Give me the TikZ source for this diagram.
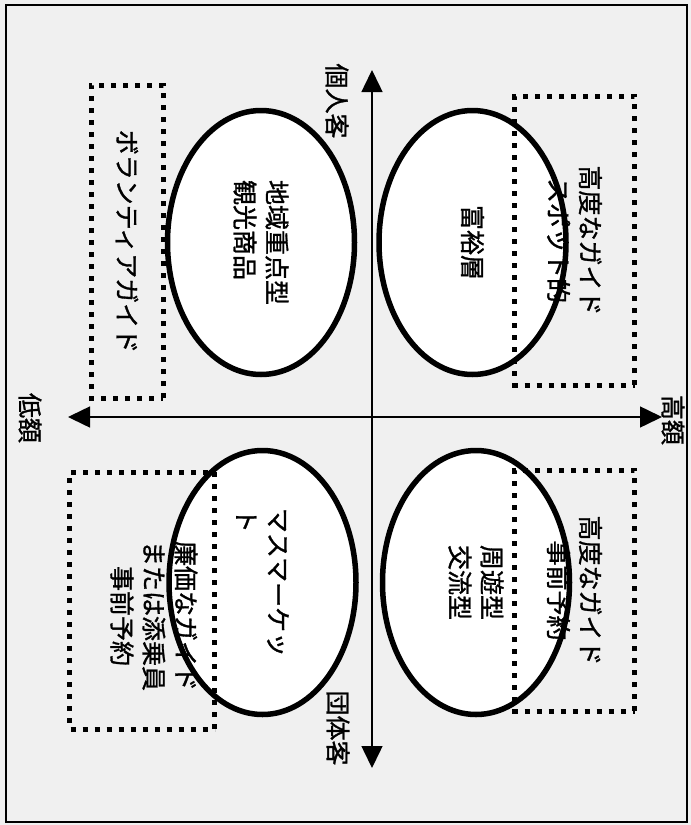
\documentclass[tikz,border=0pt]{standalone}
\usepackage{fontspec}
\newfontfamily\jp{Noto Sans CJK JP}[FakeBold=1.2]
\usetikzlibrary{shapes.geometric,arrows.meta}
\begin{document}
\begin{tikzpicture}[x=1pt,y=-1pt,
  jfont/.style={font=\jp\fontsize{25}{32}\selectfont},
  jtext/.style={jfont, rotate=-90, inner sep=0pt},
  oval/.style={draw, line width=5.5pt, fill=white, ellipse, rotate=-90,
    minimum width=264pt, minimum height=187pt, inner sep=0pt, jfont, align=left},
  dotbox/.style={draw, line width=5pt, line cap=butt, dash pattern=on 5pt off 7pt,
    rectangle, rotate=-90, inner sep=0pt, jfont, align=center},
  axisline/.style={line width=1.5pt,
    {Triangle[length=22pt,width=21pt]}-{Triangle[length=22pt,width=21pt]}}
]
\useasboundingbox (0,0) rectangle (691,825);
\fill[black!6] (0,0) rectangle (691,825);
\draw[line width=1.6pt] (6,5) rectangle (687,822);

% axes
\coordinate (vtop) at (372,70);
\coordinate (vbot) at (372,768);
\coordinate (hleft) at (68,417);
\coordinate (hright) at (662,417);
\draw[axisline] (vbot) -- (vtop);
\draw[axisline] (hleft) -- (hright);

% ellipses
\node[oval] (eTL) at (261,242.5) {地域重点型\\観光商品};
\node[oval] (eTR) at (472.5,242.5) {富裕層};
\node[oval] (eBL) at (262.5,582.5) {マスマーケッ\\ト};
\node[oval] (eBR) at (476,582.5) {周遊型\\交流型};

% dotted boxes
\node[dotbox, minimum width=313pt, minimum height=72pt] (bTL) at (127,241.5) {ボランティアガイド};
\node[dotbox, minimum width=289pt, minimum height=120pt] (bTR) at (574.5,240.5) {高度なガイド\\スポット的};
\node[dotbox, minimum width=241pt, minimum height=120pt] (bBR) at (574.5,590.5) {高度なガイド\\事前予約};
\node[dotbox, minimum width=257pt, minimum height=145pt] (bBL) at (142,600.5) {};
\node[jtext, align=center] (tBL) at (154,616) {廉価なガイド\\または添乗員\\事前予約};

% axis labels
\node[jtext] (lInd) at (337,101) {個人客};
\node[jtext] (lGrp) at (338,728) {団体客};
\node[jtext] (lLow) at (30,418) {低額};
\node[jtext] (lHigh) at (673,420) {高額};
\end{tikzpicture}
\end{document}
